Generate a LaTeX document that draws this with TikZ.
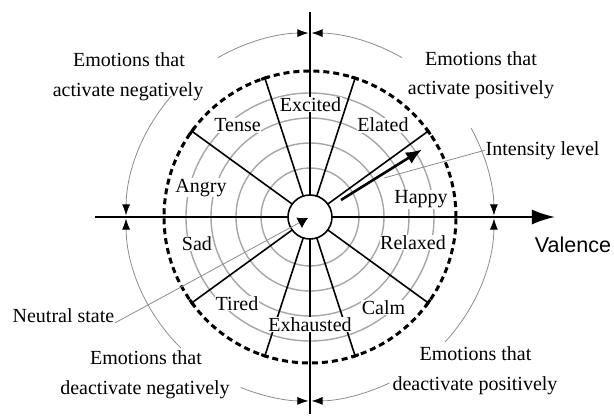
\documentclass[tikz,border=0pt]{standalone}
\usepackage{fontspec}
\setmainfont{Liberation Serif}
\newfontfamily\valfont{Liberation Sans}
\usetikzlibrary{arrows.meta}
\begin{document}
\begin{tikzpicture}[x=1pt,y=1pt,
  ring/.style={draw=black!35, line width=1.4pt},
  spoke/.style={draw=black, line width=1.6pt},
  axisline/.style={draw=black, line width=2pt},
  lbl/.style={font=\fontsize{20}{24}\selectfont, inner sep=0.5pt, anchor=base},
  inlbl/.style={lbl, fill=white},
  guide/.style={draw=black!45, line width=0.8pt},
  garrow/.style={guide, -{Latex[black,length=11pt,width=8pt]}},
  dashring/.style={draw=black, line width=3pt, dash pattern=on 6pt off 4pt},
]
\useasboundingbox (-310,-201) rectangle (304,217);

% gray intensity rings
\foreach \r in {49,74,99,124} \draw[ring] (0,0) circle[radius=\r];

% spokes
\foreach \a in {36,72,108,144,216,252,288,324} {
  \draw[spoke] (\a:22) -- (\a:146);
  \draw[black, line width=3pt] (\a-1.5:146) arc[start angle=\a-1.5, end angle=\a+1.5, radius=146];
}

% axes
\draw[axisline] (0,205) -- (0,-197);
\draw[axisline, -{Latex[length=23pt,width=15pt]}] (-215,0) -- (245,0);

% dashed boundary
\draw[dashring] (0,0) circle[radius=146];

% neutral centre
\draw[spoke, fill=white] (0,0) circle[radius=22];

% emotion labels
\node[inlbl] (exc) at (0.5,105.3) {Excited};
\node[inlbl] (ten) at (-72.5,85) {Tense};
\node[inlbl] (ela) at (73,85) {Elated};
\node[inlbl] (ang) at (-109,25) {Angry};
\node[inlbl] (hap) at (111,13) {Happy};
\node[inlbl] (sad) at (-113,-33.7) {Sad};
\node[inlbl] (rel) at (103,-32.7) {Relaxed};
\node[inlbl] (tir) at (-73,-93.7) {Tired};
\node[inlbl] (cal) at (73.5,-97) {Calm};
\node[inlbl] (exh) at (0,-114.7) {Exhausted};

% valence
\node[font=\valfont\fontsize{21.5}{24}\selectfont, anchor=base, inner sep=0pt] (val) at (263,-35) {Valence};

% quadrant texts
\node[lbl] (tl1) at (-181,150.5) {Emotions that};
\node[lbl] (tl2) at (-182,120.5) {activate negatively};
\node[lbl] (tr1) at (171,151) {Emotions that};
\node[lbl] (tr2) at (171,122) {activate positively};
\node[lbl] (bl1) at (-164,-147) {Emotions that};
\node[lbl] (bl2) at (-165,-177) {deactivate negatively};
\node[lbl] (br1) at (165.5,-143.7) {Emotions that};
\node[lbl] (br2) at (165,-173.7) {deactivate positively};

% quadrant arrows
\draw[garrow] (120:184) arc[start angle=120, end angle=90.5, radius=184];
\draw[garrow] (138.8:184) arc[start angle=138.8, end angle=179.5, radius=184];
\draw[garrow] (60:184) arc[start angle=60, end angle=89.5, radius=184];
\draw[garrow] (28.8:184) arc[start angle=28.8, end angle=0.5, radius=184];
\draw[garrow] (225.4:184) arc[start angle=225.4, end angle=180.5, radius=184];
\draw[garrow] (247.9:184) arc[start angle=247.9, end angle=269.5, radius=184];
\draw[garrow] (-42.8:184) arc[start angle=-42.8, end angle=-0.5, radius=184];
\draw[garrow] (-64.4:184) arc[start angle=-64.4, end angle=-89.5, radius=184];

% intensity arrow
\coordinate (ia) at (31,17);
\coordinate (ib) at (112,67.5);
\draw[line width=2.6pt, -{Latex[length=16pt,width=13pt]}] (ia) -- (ib);
\node[lbl, anchor=base west] (intl) at (175,62) {Intensity level};
\coordinate (il) at (74,39);
\draw[guide] (intl.west) -- (il);

% neutral state
\node[lbl, anchor=base east] (neu) at (-195,-105) {Neutral state};
\coordinate (nc) at (-2,-1);
\draw[guide, -{Latex[black,length=10pt,width=12pt]}] (neu.south east) -- (nc);
\end{tikzpicture}
\end{document}
